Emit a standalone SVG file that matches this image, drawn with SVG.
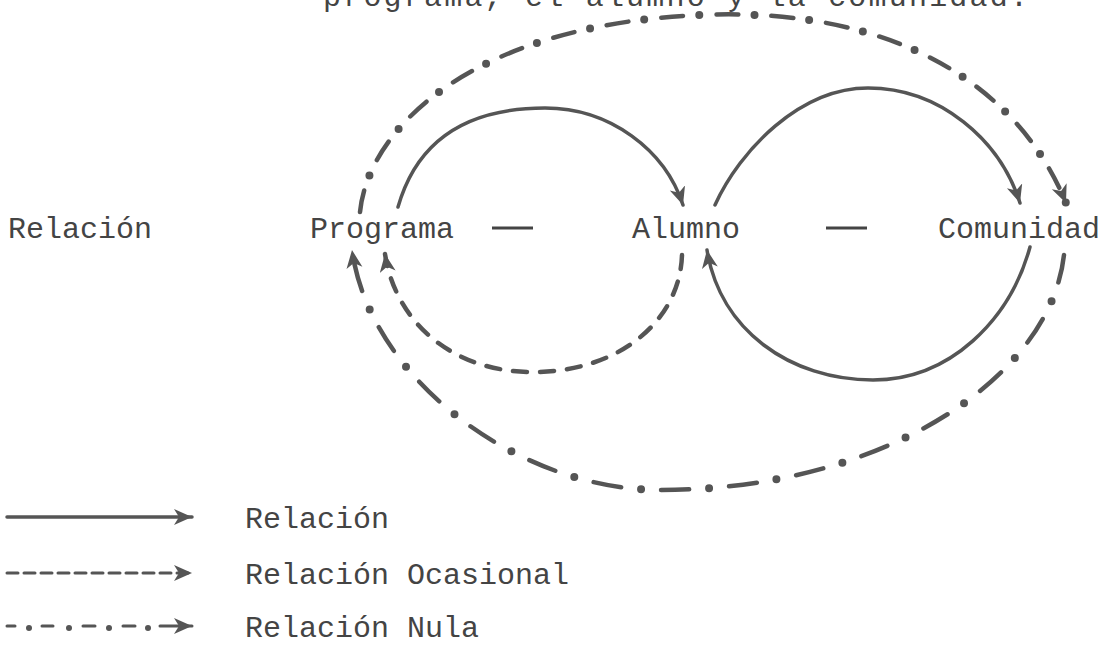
<svg xmlns="http://www.w3.org/2000/svg" width="1118" height="652" viewBox="0 0 1118 652">
<style>
  .t { font-family: "Liberation Mono", "DejaVu Sans Mono", monospace; font-size: 30px; fill: #444; }
  .ln { fill: none; stroke: #555; stroke-linecap: round; }
  .solid { stroke-width: 3.5; }
  .dash { stroke-width: 4.5; stroke-dasharray: 14 13; }
  .nd { stroke-width: 4.5; }
  .dot { stroke-width: 8; }
</style>
<defs>
  <marker id="ah" markerUnits="userSpaceOnUse" markerWidth="22" markerHeight="18" refX="18" refY="8" orient="auto">
    <path d="M0,0 L18,8 L0,16 L5,8 z" fill="#555"/>
  </marker>
</defs>
<rect width="1118" height="652" fill="#fff"/>
<text class="t" x="323" y="6" textLength="705" lengthAdjust="spacing">programa, el alumno y la comunidad.</text>

<g id="nodes">
  <g id="n-relacion"><text class="t" x="8" y="238">Relación</text></g>
  <g id="n-programa"><text class="t" x="310" y="238">Programa</text></g>
  <g id="n-alumno"><text class="t" x="632" y="238">Alumno</text></g>
  <g id="n-comunidad"><text class="t" x="938" y="238">Comunidad</text></g>
  <g id="sep1"><line x1="492" y1="228" x2="533" y2="228" stroke="#444" stroke-width="3"/></g>
  <g id="sep2"><line x1="826" y1="228" x2="867" y2="228" stroke="#444" stroke-width="3"/></g>
</g>

<g id="connectors">
  <!-- Relación (solid) -->
  <path class="ln solid" d="M 398 207 C 420 130, 480 108, 545 108 C 610 108, 665 150, 683 205" marker-end="url(#ah)"/>
  <path class="ln solid" d="M 715 205 C 740 150, 800 88, 868 88 C 940 88, 1000 140, 1020 203" marker-end="url(#ah)"/>
  <path class="ln solid" d="M 1030 247 C 1010 320, 950 380, 873 380 C 790 380, 720 330, 707 250" marker-end="url(#ah)"/>
  <!-- Relación Ocasional (dashed) -->
  <path class="ln dash" d="M 682 255 C 680 320, 620 372, 533 372 C 450 372, 395 320, 385 254" marker-end="url(#ah)"/>
  <!-- Relación Nula (dash-dot) top -->
  <path class="ln nd" stroke-dasharray="22 33" d="M 360 212 C 368 130, 470 25, 700 15 C 900 6, 1020 90, 1066 203" marker-end="url(#ah)"/>
  <path class="ln dot" stroke-dasharray="0 55" stroke-dashoffset="-38" d="M 360 212 C 368 130, 470 25, 700 15 C 900 6, 1020 90, 1066 203"/>
  <!-- Relación Nula (dash-dot) bottom -->
  <path class="ln nd" stroke-dasharray="28 40" d="M 1064 255 C 1050 380, 880 490, 660 490 C 520 490, 370 380, 352 250" marker-end="url(#ah)"/>
  <path class="ln dot" stroke-dasharray="0 68" stroke-dashoffset="-48" d="M 1064 255 C 1050 380, 880 490, 660 490 C 520 490, 370 380, 352 250"/>
</g>

<g id="legend">
  <line class="ln solid" x1="7" y1="517" x2="192" y2="517" marker-end="url(#ah)"/>
  <text class="t" x="245" y="528">Relación</text>
  <line class="ln" stroke-width="3" stroke-dasharray="11 6" stroke-linecap="butt" x1="7" y1="573" x2="192" y2="573" marker-end="url(#ah)"/>
  <text class="t" x="245" y="584">Relación Ocasional</text>
  <path class="ln" stroke-width="3" d="M 7 626 H 15 M 42 626 H 53 M 83 626 H 95 M 123 626 H 135"/>
  <g fill="#555"><circle cx="29" cy="628" r="3"/><circle cx="69" cy="628" r="3"/><circle cx="109" cy="628" r="3"/><circle cx="148" cy="628" r="3"/></g>
  <line class="ln" stroke-width="3" x1="160" y1="626" x2="192" y2="626" marker-end="url(#ah)"/>
  <text class="t" x="245" y="637">Relación Nula</text>
</g>
</svg>
